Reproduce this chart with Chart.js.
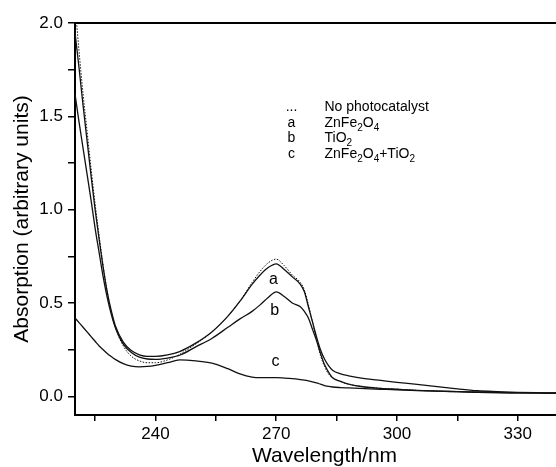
<!DOCTYPE html>
<html>
<head>
<meta charset="utf-8">
<script src="https://cdn.jsdelivr.net/npm/chart.js@4"></script>
<style>
  html, body { margin: 0; padding: 0; overflow: hidden; background: #fff; }
  #wrap { width: 574px; height: 467px; }
</style>
</head>
<body>
<div id="wrap"><canvas id="uvChart" width="574" height="467"></canvas></div>
<script>
// wavelength grid (nm) and absorption
var wavelength = [220,221,222,223,224,225,226,227,228,229,230,232,234,236,238,240,243,246,250,254,258,261,264,266,268,270,272,274,276,277,278,279,280,281,282,283,284,286,288,292,296,300,305,310,315,320,325,330,335,340,344];
var noCatalyst = [2.1,1.85,1.62,1.42,1.22,1.03,0.86,0.7,0.56,0.45,0.37,0.27,0.215,0.19,0.18,0.18,0.195,0.225,0.28,0.345,0.43,0.51,0.61,0.67,0.715,0.735,0.7,0.65,0.61,0.57,0.49,0.4,0.31,0.22,0.16,0.12,0.1,0.08,0.065,0.05,0.043,0.038,0.032,0.028,0.025,0.022,0.02,0.019,0.018,0.017,0.017];
var znFe2O4 = [1.95,1.76,1.56,1.37,1.18,1.0,0.84,0.69,0.56,0.46,0.38,0.29,0.245,0.222,0.214,0.214,0.222,0.24,0.285,0.345,0.43,0.51,0.6,0.65,0.69,0.71,0.68,0.64,0.6,0.56,0.48,0.4,0.32,0.25,0.2,0.165,0.14,0.12,0.11,0.095,0.085,0.075,0.064,0.052,0.04,0.03,0.025,0.021,0.019,0.018,0.018];
var tiO2 = [1.62,1.47,1.33,1.19,1.05,0.9,0.77,0.64,0.53,0.44,0.37,0.28,0.235,0.21,0.2,0.198,0.205,0.22,0.265,0.31,0.37,0.415,0.455,0.49,0.53,0.56,0.535,0.5,0.48,0.455,0.42,0.36,0.3,0.23,0.17,0.13,0.1,0.08,0.065,0.05,0.043,0.038,0.032,0.028,0.025,0.022,0.02,0.019,0.018,0.017,0.017];
var mixed = [0.42,0.395,0.37,0.345,0.32,0.295,0.27,0.25,0.23,0.213,0.198,0.175,0.162,0.158,0.16,0.166,0.18,0.195,0.19,0.178,0.148,0.12,0.103,0.1,0.1,0.1,0.098,0.095,0.09,0.087,0.083,0.078,0.072,0.065,0.058,0.053,0.05,0.047,0.045,0.041,0.038,0.035,0.031,0.028,0.025,0.022,0.02,0.019,0.018,0.017,0.017];

var xTicks = [225,240,255,270,285,300,315,330];
var yTicks = [0,0.25,0.5,0.75,1.0,1.25,1.5,1.75,2.0];

var FONT = '"Liberation Sans", Arial, sans-serif';

function toPoints(ys) {
    return wavelength.map(function (w, i) { return {x: w, y: ys[i]}; });
}

function curve(label, ys, dash, width) {
    return {
        label: label,
        data: toPoints(ys),
        borderColor: '#111',
        borderWidth: width,
        borderDash: dash,
        pointRadius: 0,
        fill: false,
        cubicInterpolationMode: 'monotone'
    };
}

// draws text made of pieces, some of them subscripts
function richText(ctx, x, y, parts) {
    parts.forEach(function (p) {
        ctx.font = (p[1] ? '10px ' : '14px ') + FONT;
        ctx.fillText(p[0], x, y + (p[1] ? 4 : 0));
        x += ctx.measureText(p[0]).width;
    });
}

var annotations = {
    id: 'annotations',
    afterDatasetsDraw: function (chart) {
        var ctx = chart.ctx, xs = chart.scales.x, ys = chart.scales.y, area = chart.chartArea;
        ctx.save();
        // top frame line
        ctx.strokeStyle = '#000';
        ctx.lineWidth = 2;
        ctx.beginPath();
        ctx.moveTo(area.left, area.top);
        ctx.lineTo(area.right, area.top);
        ctx.stroke();

        ctx.fillStyle = '#000';
        // curve letters
        ctx.font = '16px ' + FONT;
        ctx.textAlign = 'center';
        ctx.textBaseline = 'middle';
        ctx.fillText('a', xs.getPixelForValue(269.3), ys.getPixelForValue(0.625));
        ctx.fillText('b', xs.getPixelForValue(269.6), ys.getPixelForValue(0.459));
        ctx.fillText('c', xs.getPixelForValue(269.8), ys.getPixelForValue(0.188));

        // legend block
        var rows = [
            ['...', [['No photocatalyst']]],
            ['a', [['ZnFe'], ['2', 1], ['O'], ['4', 1]]],
            ['b', [['TiO'], ['2', 1]]],
            ['c', [['ZnFe'], ['2', 1], ['O'], ['4', 1], ['+TiO'], ['2', 1]]]
        ];
        ctx.textBaseline = 'alphabetic';
        rows.forEach(function (r, i) {
            var y = ys.getPixelForValue(1.530 - i * 0.085);
            ctx.font = '14px ' + FONT;
            ctx.textAlign = 'center';
            ctx.fillText(r[0], xs.getPixelForValue(273.8), y);
            ctx.textAlign = 'left';
            richText(ctx, xs.getPixelForValue(282.0), y, r[1]);
        });
        ctx.restore();
    }
};

var ctx = document.getElementById('uvChart').getContext('2d');
var uvChart = new Chart(ctx, {
    type: 'line',
    data: {
        datasets: [
            curve('No photocatalyst', noCatalyst, [1.5, 1.5], 1),
            curve('ZnFe2O4', znFe2O4, [], 1.3),
            curve('TiO2', tiO2, [], 1.3),
            curve('ZnFe2O4+TiO2', mixed, [], 1.3)
        ]
    },
    options: {
        responsive: false,
        animation: false,
        layout: { padding: { top: 23, left: 0, right: 0, bottom: 0 } },
        plugins: {
            legend: { display: false },
            tooltip: { enabled: false }
        },
        scales: {
            x: {
                type: 'linear',
                min: 220,
                max: 344,
                afterBuildTicks: function (axis) {
                    axis.ticks = xTicks.map(function (v) { return {value: v}; });
                },
                afterFit: function (axis) { axis.height = 52; },
                ticks: {
                    autoSkip: false,
                    maxRotation: 0,
                    padding: 3,
                    color: '#000',
                    font: { family: FONT, size: 17 },
                    callback: function (v) { return v % 30 === 0 ? String(v) : ''; }
                },
                grid: { drawOnChartArea: false, drawTicks: true, tickLength: 6, color: '#000', lineWidth: 1.5 },
                border: { color: '#000', width: 2 },
                title: {
                    display: true,
                    text: 'Wavelength/nm',
                    color: '#000',
                    font: { family: FONT, size: 21, lineHeight: 1 },
                    padding: { top: 0, bottom: 0 }
                }
            },
            y: {
                min: -0.1,
                max: 2.0,
                afterBuildTicks: function (axis) {
                    axis.ticks = yTicks.map(function (v) { return {value: v}; });
                },
                afterFit: function (axis) { axis.width = 75; },
                ticks: {
                    autoSkip: false,
                    padding: 5,
                    color: '#000',
                    font: { family: FONT, size: 17 },
                    callback: function (v) {
                        return Math.abs(v * 2 - Math.round(v * 2)) < 1e-6 ? v.toFixed(1) : '';
                    }
                },
                grid: { drawOnChartArea: false, drawTicks: true, tickLength: 7, color: '#000', lineWidth: 1.5 },
                border: { color: '#000', width: 2 },
                title: {
                    display: true,
                    text: 'Absorption (arbitrary units)',
                    color: '#000',
                    font: { family: FONT, size: 21 },
                    padding: { top: 10, bottom: 0 }
                }
            }
        }
    },
    plugins: [annotations]
});
</script>
</body>
</html>
